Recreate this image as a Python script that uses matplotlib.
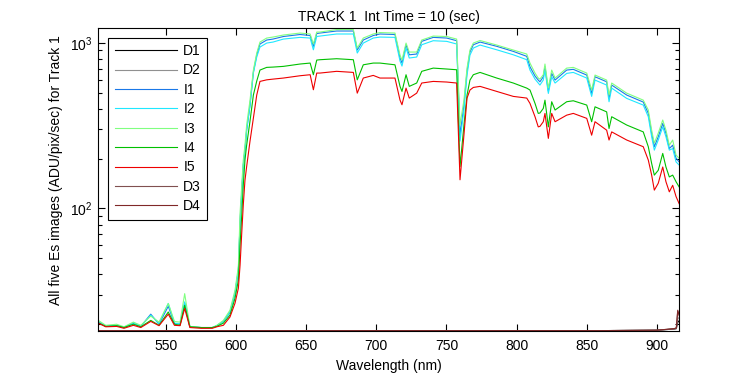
import matplotlib
matplotlib.use('Agg')
import matplotlib.pyplot as plt
from matplotlib.ticker import LogLocator, NullFormatter

plt.rcParams['font.family'] = ['Liberation Sans', 'DejaVu Sans']
plt.rcParams['mathtext.fontset'] = 'custom'
plt.rcParams['mathtext.rm'] = 'Liberation Sans'

# wavelength grid (nm) for the five Es images
wl = [501.7, 507.0, 514.8, 520.0, 526.7, 532.0, 539.1, 545.0, 551.6, 556.0,
      560.0, 563.3, 567.0, 575.0, 583.0, 586.2, 590.9, 595.6, 599.2, 601.6,
      602.8, 604.0, 605.1, 606.3, 607.5, 609.9, 612.3, 614.7, 617.0, 621.8,
      626.3, 633.7, 645.6, 652.8, 655.1, 657.5, 659.8, 671.7, 683.6, 686.4,
      690.7, 697.8, 702.6, 713.3, 716.9, 718.3, 721.2, 723.5, 728.8, 732.4,
      740.6, 750.2, 757.3, 759.7, 762.5, 764.7, 766.8, 769.2, 774.0, 785.9,
      797.7, 807.3, 809.6, 813.2, 815.5, 816.7, 819.1, 820.3, 822.7, 825.1,
      827.5, 835.8, 840.5, 850.1, 853.6, 856.0, 864.3, 866.0, 867.9, 878.6,
      890.4, 894.0, 896.4, 898.3, 901.1, 904.3, 906.6, 909.0, 911.4, 913.8,
      916.0]

i1 = [20.6, 19.4, 19.7, 19.1, 20.3, 19.4, 23.0, 20.0, 25.7, 20.2,
      20.0, 26.8, 19.3, 19.1, 19.1, 19.6, 20.8, 23.6, 30.8, 42.4,
      83, 125, 183, 225, 297, 421, 666, 844, 984, 1040,
      1054, 1092, 1123, 1107, 953, 1138, 1146, 1179, 1179, 905,
      1040, 1107, 1131, 1123, 810, 755, 974, 847, 856, 1021,
      1079, 1069, 1030, 277, 421, 673, 880, 974, 1011, 953,
      888, 829, 717, 630, 596, 582, 624, 717, 511, 654,
      596, 685, 692, 639, 495, 624, 582, 462, 556, 484,
      439, 375, 284, 236, 271, 326, 284, 230, 241, 201,
      191]

i2 = [20.8, 19.4, 19.7, 19.1, 20.4, 19.4, 22.7, 20.2, 26.7, 20.3,
      20.2, 27.3, 19.3, 19.1, 19.1, 19.6, 20.8, 23.7, 30.8, 42.4,
      83, 125, 183, 225, 297, 421, 657, 821, 943, 997,
      1011, 1054, 1079, 1069, 908, 1092, 1099, 1131, 1131, 868,
      997, 1069, 1084, 1079, 776, 724, 930, 810, 821, 974,
      1030, 1021, 984, 255, 393, 639, 844, 930, 970, 908,
      847, 791, 685, 604, 572, 556, 596, 685, 495, 624,
      572, 654, 663, 613, 475, 596, 556, 441, 533, 462,
      421, 358, 271, 225, 259, 311, 271, 225, 230, 191,
      183]

i3 = [21.1, 19.7, 20.0, 19.3, 20.6, 19.7, 22.4, 20.6, 26.7, 20.8,
      20.6, 30.6, 19.4, 19.1, 19.1, 19.7, 21.1, 24.3, 32.1, 44.8,
      94, 138, 196, 241, 319, 451, 685, 868, 1011, 1069,
      1084, 1115, 1146, 1131, 984, 1162, 1162, 1203, 1203, 930,
      1069, 1131, 1154, 1146, 844, 787, 997, 880, 880, 1040,
      1099, 1092, 1054, 319, 451, 704, 905, 997, 1033, 970,
      905, 856, 755, 657, 613, 604, 642, 745, 533, 685,
      613, 704, 711, 657, 519, 639, 596, 484, 572, 497,
      451, 393, 297, 248, 285, 342, 297, 241, 259, 210,
      201]

i4 = [20.4, 19.4, 19.6, 19.1, 20.0, 19.3, 21.1, 19.7, 23.7, 20.0,
      19.7, 26.0, 19.3, 19.1, 19.1, 19.4, 20.3, 22.7, 28.7, 36.9,
      60, 91, 138, 196, 241, 337, 484, 588, 685, 711,
      714, 721, 745, 755, 642, 787, 791, 802, 791, 598,
      737, 755, 755, 737, 546, 509, 642, 546, 572, 673,
      704, 695, 688, 179, 319, 484, 596, 642, 663, 613,
      572, 533, 519, 431, 375, 377, 402, 451, 311, 441,
      393, 441, 447, 421, 334, 411, 383, 304, 358, 319,
      290, 236, 187, 159, 170, 215, 178, 155, 159, 145,
      135]

i5 = [20.3, 19.3, 19.4, 18.9, 19.7, 19.1, 20.8, 19.6, 23.0, 19.7,
      19.6, 24.9, 19.1, 18.9, 18.9, 19.3, 19.7, 22.1, 26.8, 33.0,
      45.4, 71, 105, 148, 179, 255, 351, 484, 585, 598,
      604, 613, 633, 642, 521, 657, 657, 673, 663, 497,
      613, 636, 613, 613, 451, 423, 533, 464, 497, 572,
      585, 580, 572, 149, 278, 464, 519, 538, 546, 509,
      475, 464, 431, 358, 311, 313, 334, 375, 265, 375,
      334, 366, 375, 350, 277, 334, 297, 259, 290, 259,
      236, 196, 159, 129, 142, 178, 145, 126, 138, 118,
      107]

# dark frames
dark_wl = [501.7, 560.0, 620.0, 680.0, 740.0, 800.0, 860.0, 900.0,
           912.5, 914.0, 915.0, 916.0]
d1 = [18.3, 18.3, 18.3, 18.3, 18.3, 18.3, 18.3, 18.4, 18.7, 18.8, 20.5, 21.0]
d2 = [18.3, 18.3, 18.3, 18.3, 18.3, 18.3, 18.3, 18.4, 18.7, 18.9, 21.5, 22.0]
d3 = [18.3, 18.3, 18.3, 18.3, 18.3, 18.3, 18.3, 18.4, 18.8, 19.0, 24.0, 23.0]
d4 = [18.3, 18.3, 18.3, 18.3, 18.3, 18.3, 18.3, 18.4, 18.8, 19.0, 24.3, 22.5]

fig = plt.figure(figsize=(7.5, 3.75), dpi=100)
ax = fig.add_axes([0.1311, 0.1173, 0.7746, 0.8072])

lw = 0.8
ax.plot(dark_wl, d1, color='black', lw=lw, label='D1')
ax.plot(dark_wl, d2, color='#909090', lw=lw, label='D2')
ax.plot(wl, i1, color='#1a78e8', lw=lw, label='I1')
ax.plot(wl, i2, color='#1ee8ff', lw=lw, label='I2')
ax.plot(wl, i3, color='#80ff80', lw=lw, label='I3')
ax.plot(wl, i4, color='#00c000', lw=lw, label='I4')
ax.plot(wl, i5, color='#ee0000', lw=lw, label='I5')
ax.plot(dark_wl, d3, color='#805050', lw=lw, label='D3')
ax.plot(dark_wl, d4, color='#802828', lw=lw, label='D4')

ax.set_yscale('log')
ax.set_xlim(501.7, 916.1)
ax.set_ylim(18.2, 1224)
ax.set_xticks([550, 600, 650, 700, 750, 800, 850, 900])
ax.yaxis.set_major_locator(LogLocator(base=10))
ax.yaxis.set_minor_locator(LogLocator(base=10, subs=range(2, 10)))
ax.yaxis.set_minor_formatter(NullFormatter())

ax.tick_params(which='both', direction='in', top=True, right=True,
               labelsize=10, width=0.8)
ax.tick_params(axis='x', which='major', length=5, pad=6)
ax.tick_params(axis='y', which='major', length=5, pad=4)
ax.tick_params(which='minor', length=3)
for s in ax.spines.values():
    s.set_linewidth(0.8)

ax.set_title('TRACK 1  Int Time = 10 (sec)', fontsize=10, pad=5)
ax.set_xlabel('Wavelength (nm)', fontsize=10, labelpad=4)
ax.set_ylabel('All five Es images (ADU/pix/sec) for Track 1', fontsize=10)
ax.yaxis.set_label_coords(-0.061, 0.532)

leg = ax.legend(loc='upper left', bbox_to_anchor=(0.0172, 0.969),
                borderaxespad=0, fontsize=10, handlelength=4.5,
                handletextpad=0.45, labelspacing=0.39, borderpad=0.45,
                fancybox=False, framealpha=1, edgecolor='black')
leg.get_frame().set_linewidth(0.8)

fig.savefig('out.png', dpi=100)
